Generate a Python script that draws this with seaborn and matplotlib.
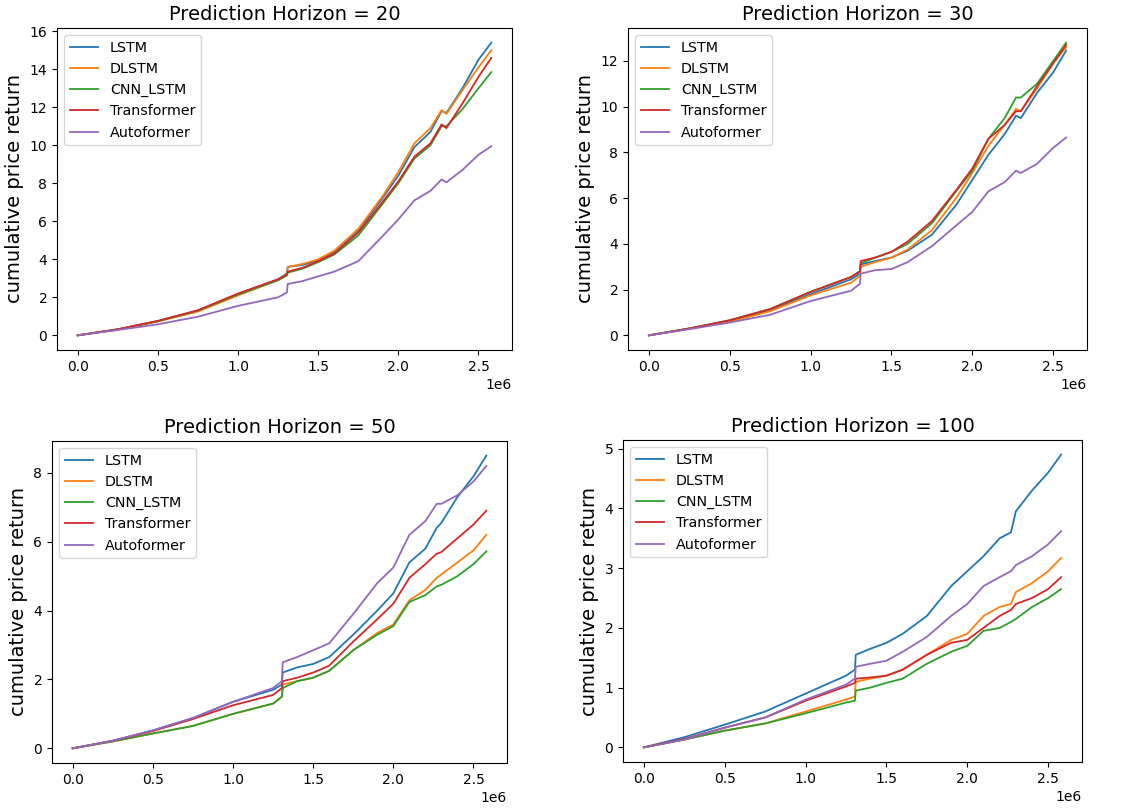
import matplotlib
matplotlib.use("Agg")
import matplotlib.pyplot as plt
import seaborn as sns
import pandas as pd

models = ["LSTM", "DLSTM", "CNN_LSTM", "Transformer", "Autoformer"]
horizons = [20, 30, 50, 100]

steps = [0, 250000, 500000, 750000, 1000000, 1250000, 1305000, 1310000, 1400000,
         1500000, 1600000, 1750000, 1900000, 2000000, 2100000, 2200000, 2270000,
         2300000, 2400000, 2500000, 2580000]

# horizon 20
h20_lstm = [0, .32, .75, 1.3, 2.15, 2.95, 3.25, 3.6, 3.7, 3.95, 4.4, 5.5, 7.2, 8.4, 9.9, 10.7, 11.8, 11.7, 13.0, 14.5, 15.4]
h20_dlstm = [0, .30, .73, 1.25, 2.1, 2.9, 3.2, 3.6, 3.75, 4.0, 4.45, 5.6, 7.3, 8.6, 10.1, 10.9, 11.85, 11.65, 12.9, 14.1, 15.0]
h20_cnn = [0, .31, .74, 1.3, 2.15, 2.9, 3.15, 3.3, 3.5, 3.85, 4.25, 5.25, 6.9, 8.0, 9.3, 10.0, 11.0, 11.0, 11.9, 13.0, 13.85]
h20_trans = [0, .32, .76, 1.32, 2.2, 2.95, 3.2, 3.35, 3.55, 3.9, 4.3, 5.4, 7.0, 8.1, 9.4, 10.1, 11.1, 10.9, 12.2, 13.6, 14.6]
h20_auto = [0, .28, .58, .98, 1.55, 2.0, 2.25, 2.7, 2.85, 3.1, 3.35, 3.9, 5.2, 6.1, 7.1, 7.6, 8.2, 8.05, 8.7, 9.5, 9.95]

# horizon 30
h30_lstm = [0, .3, .63, 1.1, 1.8, 2.45, 2.7, 3.1, 3.25, 3.4, 3.7, 4.4, 5.7, 6.8, 7.9, 8.8, 9.6, 9.5, 10.6, 11.5, 12.45]
h30_dlstm = [0, .28, .6, 1.05, 1.75, 2.3, 2.6, 3.0, 3.2, 3.4, 3.75, 4.6, 6.0, 7.1, 8.3, 9.2, 9.9, 9.8, 10.8, 11.9, 12.6]
h30_cnn = [0, .3, .66, 1.15, 1.9, 2.55, 2.8, 3.15, 3.4, 3.65, 4.0, 4.9, 6.3, 7.2, 8.6, 9.5, 10.4, 10.4, 11.0, 12.0, 12.8]
h30_trans = [0, .3, .66, 1.15, 1.9, 2.55, 2.8, 3.25, 3.4, 3.65, 4.1, 5.0, 6.35, 7.3, 8.6, 9.2, 9.8, 9.8, 10.9, 11.9, 12.7]
h30_auto = [0, .27, .56, .9, 1.5, 1.95, 2.25, 2.7, 2.85, 2.9, 3.2, 3.9, 4.8, 5.4, 6.3, 6.7, 7.2, 7.1, 7.5, 8.2, 8.65]

# horizon 50
h50_lstm = [0, .22, .52, .88, 1.35, 1.7, 1.85, 2.2, 2.35, 2.45, 2.65, 3.3, 4.0, 4.5, 5.4, 5.8, 6.4, 6.55, 7.3, 7.9, 8.5]
h50_dlstm = [0, .2, .43, .65, 1.0, 1.3, 1.5, 1.85, 1.95, 2.05, 2.25, 2.85, 3.35, 3.6, 4.3, 4.6, 4.95, 5.05, 5.4, 5.75, 6.2]
h50_cnn = [0, .2, .43, .65, 1.0, 1.3, 1.5, 1.75, 1.95, 2.05, 2.25, 2.85, 3.3, 3.55, 4.25, 4.45, 4.7, 4.75, 5.0, 5.35, 5.72]
h50_trans = [0, .22, .5, .85, 1.25, 1.55, 1.75, 1.95, 2.05, 2.2, 2.4, 3.1, 3.75, 4.2, 4.95, 5.35, 5.65, 5.7, 6.1, 6.5, 6.9]
h50_auto = [0, .22, .52, .88, 1.35, 1.75, 1.95, 2.5, 2.65, 2.85, 3.05, 3.9, 4.8, 5.25, 6.2, 6.6, 7.1, 7.1, 7.35, 7.75, 8.2]

# horizon 100
h100_lstm = [0, .17, .38, .6, .9, 1.2, 1.3, 1.55, 1.65, 1.75, 1.9, 2.2, 2.7, 2.95, 3.2, 3.5, 3.6, 3.95, 4.3, 4.6, 4.9]
h100_dlstm = [0, .13, .28, .4, .6, .8, .85, 1.1, 1.15, 1.2, 1.3, 1.55, 1.8, 1.9, 2.2, 2.35, 2.4, 2.6, 2.75, 2.95, 3.17]
h100_cnn = [0, .13, .28, .4, .57, .75, .78, .95, 1.0, 1.08, 1.15, 1.4, 1.6, 1.7, 1.95, 2.0, 2.1, 2.15, 2.35, 2.5, 2.65]
h100_trans = [0, .14, .33, .5, .78, 1.02, 1.08, 1.15, 1.17, 1.2, 1.3, 1.55, 1.75, 1.8, 2.0, 2.2, 2.3, 2.4, 2.5, 2.65, 2.85]
h100_auto = [0, .13, .33, .5, .8, 1.05, 1.15, 1.35, 1.4, 1.45, 1.6, 1.85, 2.2, 2.4, 2.7, 2.85, 2.95, 3.05, 3.2, 3.4, 3.62]

series = {
    20: [h20_lstm, h20_dlstm, h20_cnn, h20_trans, h20_auto],
    30: [h30_lstm, h30_dlstm, h30_cnn, h30_trans, h30_auto],
    50: [h50_lstm, h50_dlstm, h50_cnn, h50_trans, h50_auto],
    100: [h100_lstm, h100_dlstm, h100_cnn, h100_trans, h100_auto],
}

positions = [
    [0.0502, 0.5674, 0.4009, 0.3980],
    [0.5533, 0.5674, 0.4044, 0.3980],
    [0.0458, 0.0569, 0.4009, 0.3980],
    [0.5489, 0.0581, 0.4044, 0.3980],
]

fig, axes = plt.subplots(2, 2, figsize=(11.35, 8.09), dpi=100)
for ax, h, pos in zip(axes.flat, horizons, positions):
    rows = []
    for m, vals in zip(models, series[h]):
        for s, v in zip(steps, vals):
            rows.append({"step": s, "ret": v, "model": m})
    df = pd.DataFrame(rows)
    sns.lineplot(data=df, x="step", y="ret", hue="model", hue_order=models,
                 palette="tab10", estimator=None, linewidth=1.3, ax=ax)
    sns.move_legend(ax, "upper left", title=None, fontsize=10.3)
    ax.set_title(f"Prediction Horizon = {h}", fontsize=14)
    ax.set_xlabel("")
    ax.set_ylabel("cumulative price return", fontsize=14)
    ax.tick_params(labelsize=10)
    ax.xaxis.get_offset_text().set_fontsize(10)
    ax.set_position(pos)

plt.savefig("out.png", dpi=100)
